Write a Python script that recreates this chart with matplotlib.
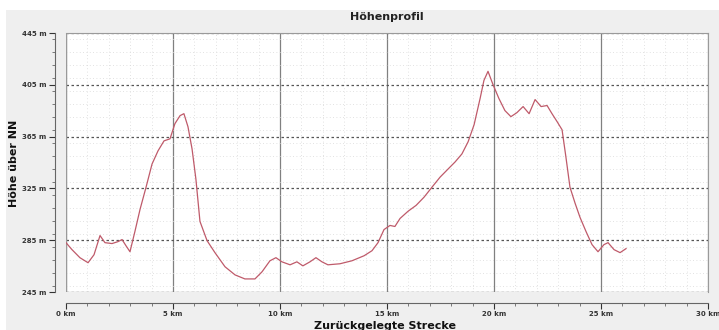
import numpy as np
from matplotlib import pyplot as plt
from matplotlib.patches import Rectangle
from matplotlib.ticker import MultipleLocator, FixedLocator, FuncFormatter

# distance along the route (km) and elevation (m)
dist_km = [0.00, 0.28, 0.65, 1.03, 1.31, 1.59, 1.82, 2.15, 2.43, 2.62, 2.80, 2.99,
           3.22, 3.46, 3.74, 4.02, 4.30, 4.58, 4.86, 5.09, 5.33, 5.51, 5.70, 5.89,
           6.07, 6.26, 6.59, 6.96, 7.43, 7.90, 8.36, 8.83, 9.16, 9.53, 9.81, 10.09,
           10.47, 10.79, 11.07, 11.40, 11.68, 11.96, 12.24, 12.80, 13.36, 13.93, 14.30,
           14.58, 14.86, 15.14, 15.37, 15.61, 15.98, 16.36, 16.73, 17.10, 17.48, 17.85,
           18.18, 18.50, 18.79, 19.07, 19.35, 19.53, 19.72, 19.95, 20.23, 20.51, 20.79,
           21.07, 21.36, 21.64, 21.92, 22.20, 22.48, 22.71, 22.95, 23.18, 23.36, 23.55,
           23.79, 24.02, 24.30, 24.58, 24.86, 25.14, 25.33, 25.61, 25.89, 26.17]
elev_m = [283.1, 277.7, 271.5, 267.6, 273.8, 288.6, 283.1, 282.4, 283.9, 285.5, 280.8, 276.1,
          291.7, 308.8, 325.9, 343.8, 354.0, 361.7, 363.3, 375.0, 381.2, 382.7, 372.6, 355.5,
          332.2, 299.5, 284.7, 275.4, 264.5, 258.2, 255.1, 255.1, 260.6, 269.1, 271.5, 268.3,
          266.0, 268.3, 265.2, 268.3, 271.5, 268.3, 266.0, 266.8, 269.1, 273.0, 276.9,
          283.1, 293.2, 296.4, 295.6, 301.8, 307.3, 311.9, 318.2, 325.9, 333.7, 339.9,
          345.4, 351.6, 361.0, 374.2, 394.4, 408.4, 415.4, 405.3, 394.4, 385.1, 380.4,
          383.5, 388.2, 382.7, 393.6, 388.2, 389.0, 382.7, 376.5, 370.3, 349.3, 325.9,
          313.5, 302.6, 291.7, 281.6, 276.1, 281.6, 283.1, 277.7, 275.4, 278.5]

y_ticks = [245, 285, 325, 365, 405, 445]
x_ticks = [0, 5, 10, 15, 20, 25, 30]

W, H = 719, 330
fig = plt.figure(figsize=(W / 100, H / 100), dpi=100, facecolor="white")
fig.patches.append(Rectangle((6 / W, 0), 1, 1 - 10 / H, transform=fig.transFigure,
                             facecolor="#efefef", edgecolor="none", zorder=-10))

ax = fig.add_axes([66 / W, 1 - 292 / H, (708 - 66) / W, (292 - 33) / H])
ax.set_facecolor("white")

ax.plot(dist_km, elev_m, color="#bf5a6a", linewidth=0.9, zorder=5)

ax.set_xlim(0, 30)
ax.set_ylim(245, 445)

ax.xaxis.set_major_locator(FixedLocator(x_ticks))
ax.xaxis.set_minor_locator(MultipleLocator(1))
ax.yaxis.set_major_locator(FixedLocator(y_ticks))
ax.yaxis.set_minor_locator(MultipleLocator(10))
ax.xaxis.set_major_formatter(FuncFormatter(lambda v, p: f"{v:.0f} km"))
ax.yaxis.set_major_formatter(FuncFormatter(lambda v, p: f"{v:.0f} m"))

# grid: solid verticals, dotted horizontals, faint minor lines
ax.grid(True, which="major", axis="x", color="#808080", linewidth=0.9)
ax.grid(True, which="major", axis="y", color="#555555", linewidth=0.9, linestyle=(0, (2, 2)))
ax.grid(True, which="minor", color="#d8d8d8", linewidth=0.6, linestyle=(0, (1, 3)))
ax.set_axisbelow(True)

for side in ["top", "right"]:
    ax.spines[side].set_color("#9a9a9a")
ax.spines["left"].set_position(("outward", 8))
ax.spines["bottom"].set_position(("outward", 8))
ax.spines["left"].set_color("#666666")
ax.spines["bottom"].set_color("#666666")
ax.axvline(0, color="#9a9a9a", linewidth=0.9, zorder=1)
ax.axhline(245, color="#9a9a9a", linewidth=0.9, zorder=1)

ax.tick_params(axis="both", which="major", labelsize=5, colors="#333333", length=4, width=0.8)
ax.tick_params(axis="x", which="major", pad=2)
ax.tick_params(axis="y", which="major", pad=2)
ax.tick_params(axis="both", which="minor", length=2, width=0.6, colors="#666666")
for lbl in ax.get_xticklabels() + ax.get_yticklabels():
    lbl.set_fontweight("bold")

fig.text(387 / W, 1 - 17 / H, "Höhenprofil", ha="center", va="center",
         fontsize=8, fontweight="bold", color="#222222")
fig.text(14 / W, 1 - 163 / H, "Höhe über NN", ha="center", va="center",
         rotation=90, fontsize=8, fontweight="bold", color="#111111")
fig.text(385 / W, 1 - 326 / H, "Zurückgelegte Strecke", ha="center", va="center",
         fontsize=8, fontweight="bold", color="#111111")

fig.savefig("out.png", dpi=100, facecolor=fig.get_facecolor())
